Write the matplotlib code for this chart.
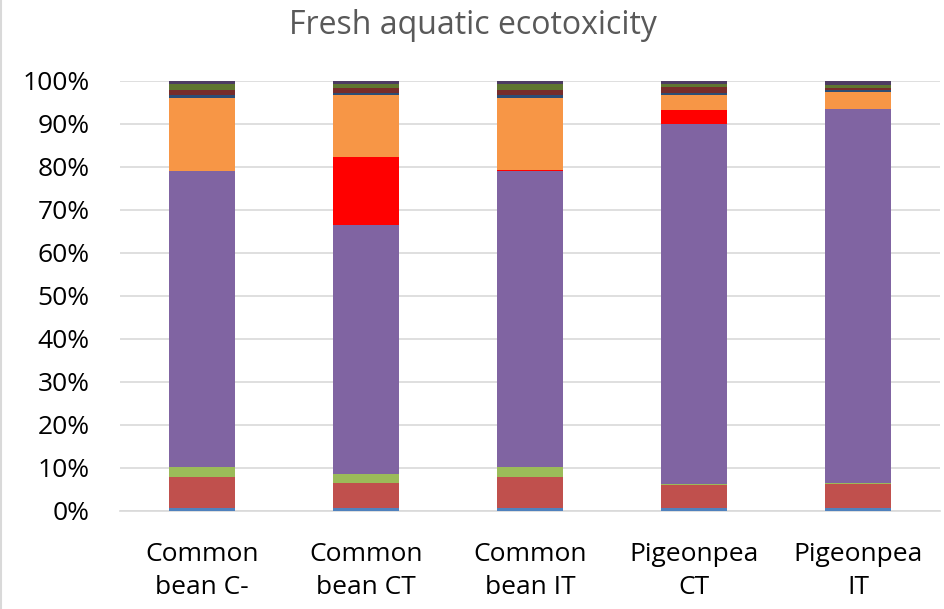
import matplotlib.pyplot as plt
from matplotlib.lines import Line2D
import numpy as np

plt.rcParams['font.family'] = ['Open Sans', 'DejaVu Sans']

categories = ['Common\nbean C-', 'Common\nbean CT', 'Common\nbean IT', 'Pigeonpea\nCT', 'Pigeonpea\nIT']

# percent shares, bottom to top
s_blue = [0.7, 0.7, 0.7, 0.6, 0.6]
s_red = [7.2, 5.9, 7.2, 5.4, 5.6]
s_green = [2.3, 2.1, 2.3, 0.2, 0.2]
s_purple = [68.9, 57.8, 68.8, 83.8, 87.1]
s_brightred = [0.0, 15.8, 0.3, 3.3, 0.0]
s_orange = [16.9, 14.4, 16.7, 3.4, 3.9]
s_darkblue = [0.7, 0.6, 0.7, 0.5, 0.5]
s_darkred = [1.2, 1.0, 1.2, 1.3, 0.5]
s_darkgreen = [1.3, 1.0, 1.3, 0.7, 0.7]
s_darkpurple = [0.8, 0.7, 0.8, 0.8, 0.9]

series = [s_blue, s_red, s_green, s_purple, s_brightred, s_orange,
          s_darkblue, s_darkred, s_darkgreen, s_darkpurple]
colors = ['#4F81BD', '#C0504D', '#9BBB59', '#8064A2', '#FF0000', '#F79646',
          '#2C4D75', '#772C2A', '#5F7530', '#4D3B62']

fig, ax = plt.subplots(figsize=(9.45, 6.09), dpi=100)
fig.subplots_adjust(left=0.127, right=0.995, top=0.867, bottom=0.161)

x = np.arange(len(categories))
bottom = np.zeros(len(categories))
for vals, c in zip(series, colors):
    v = np.array(vals) / 100.0
    ax.bar(x, v, width=0.4, bottom=bottom, color=c, zorder=3)
    bottom += v

ax.set_xlim(-0.5, 4.5)
ax.set_ylim(0, 1.0)
ax.set_yticks(np.arange(0, 1.01, 0.1))
ax.set_yticklabels(['%d%%' % (t * 10) for t in range(11)])
ax.set_xticks(x)
ax.set_xticklabels(categories, linespacing=1.45)
ax.tick_params(axis='both', length=0, labelsize=19, colors='black')
ax.tick_params(axis='x', pad=22)
ax.tick_params(axis='y', pad=22)
ax.grid(axis='y', color='#D9D9D9', linewidth=1.2, zorder=0)
for s in ['top', 'right', 'left']:
    ax.spines[s].set_visible(False)
ax.spines['bottom'].set_color('#D9D9D9')
ax.spines['bottom'].set_linewidth(1.2)

fig.suptitle('Fresh aquatic ecotoxicity', fontsize=23, color='#595959', y=0.985)
fig.add_artist(Line2D([0.001, 0.001], [0, 1], transform=fig.transFigure, color='#D9D9D9', lw=1.5))

plt.savefig('out.png')
